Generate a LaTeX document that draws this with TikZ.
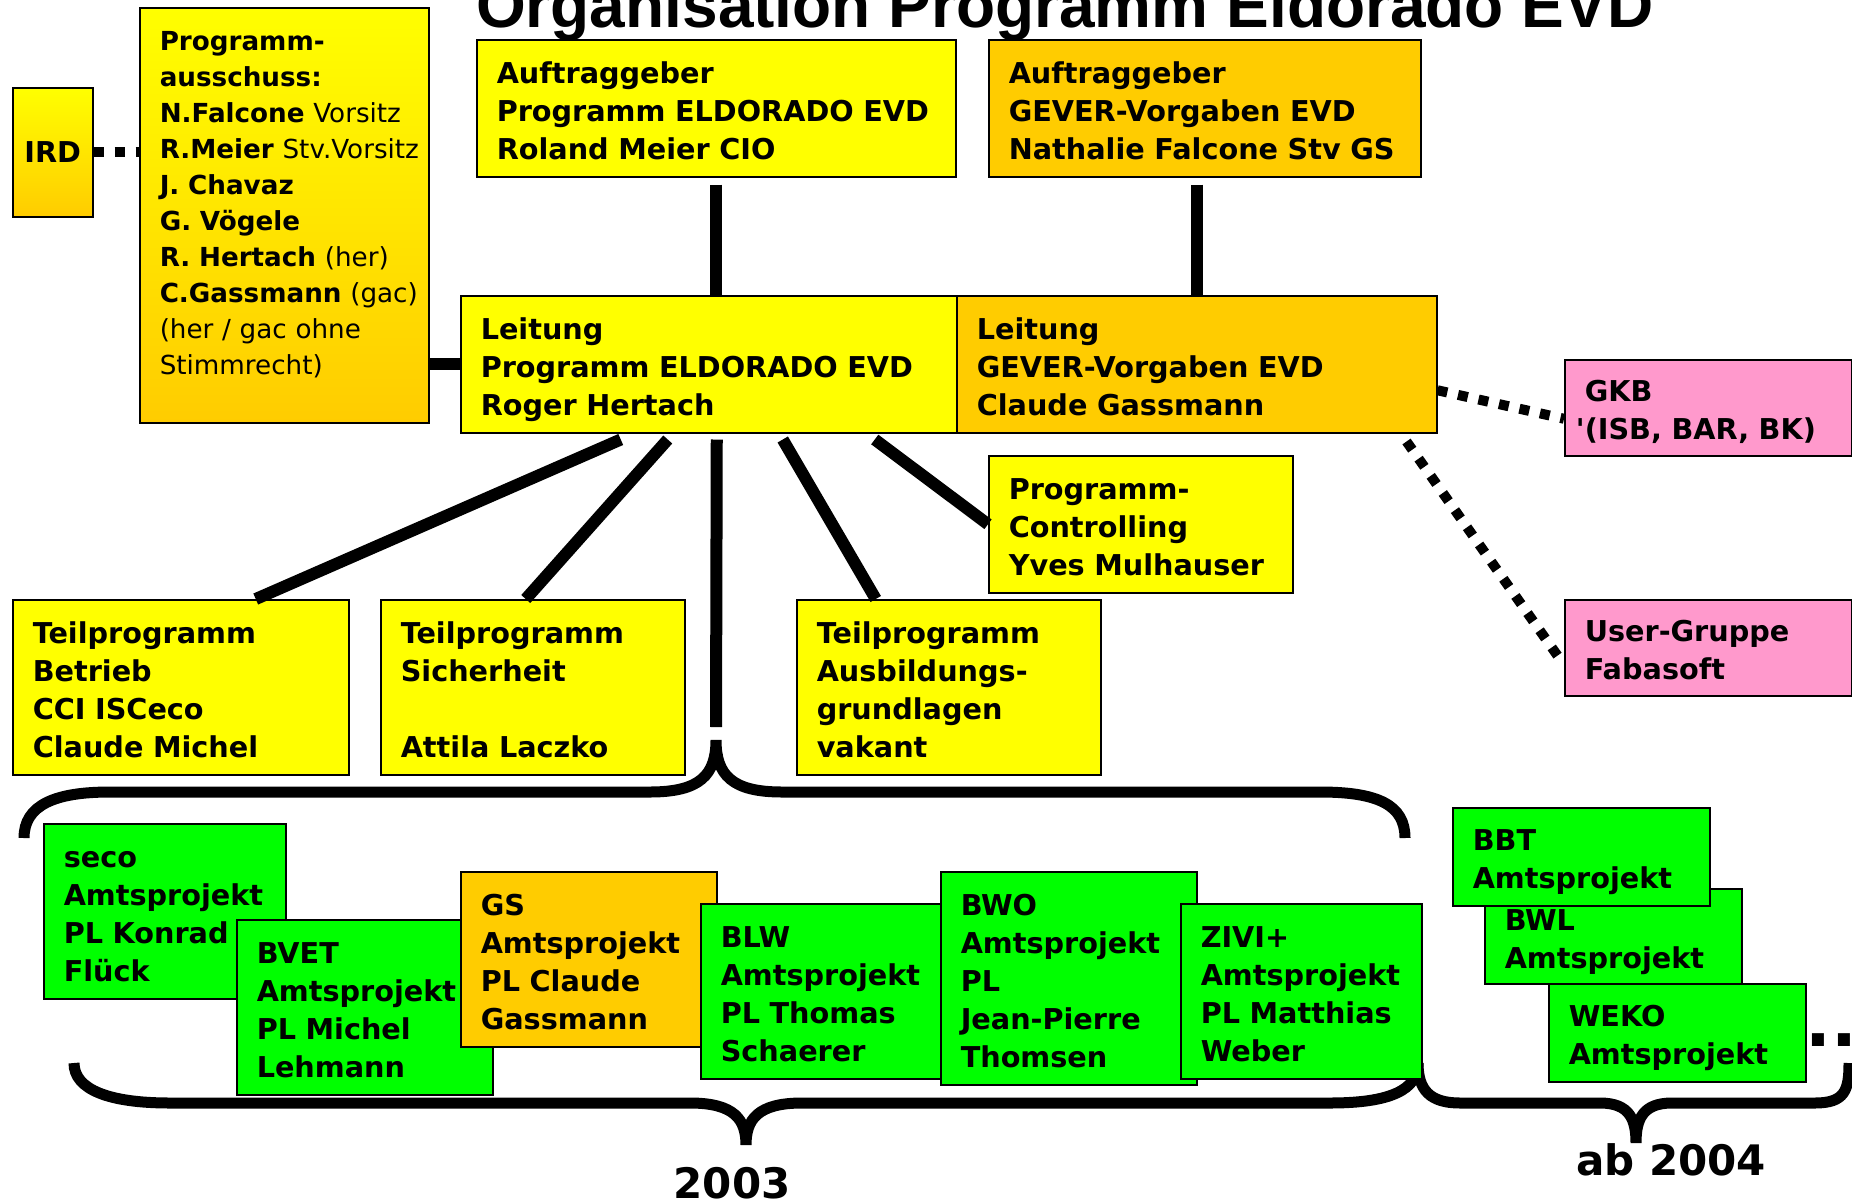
\documentclass[tikz,border=0pt]{standalone}
\usepackage{fontspec}
\setmainfont{DejaVu Sans}
\newfontfamily\headfont{Liberation Sans}
\usetikzlibrary{positioning}

\definecolor{evdyellow}{HTML}{FFFF00}
\definecolor{evdorange}{HTML}{FFCC00}
\definecolor{evdgreen}{HTML}{00FF00}
\definecolor{evdpink}{HTML}{FF99CC}

\tikzset{
  box/.style={draw=black, line width=1.5pt, anchor=north west, align=left,
    inner xsep=20pt, inner ysep=0pt, text height=44pt,
    font=\fontsize{28.7}{38}\selectfont\bfseries},
  boxsize/.code 2 args={\pgfmathsetmacro\boxw{#1-40}\pgfmathsetmacro\boxd{#2-44}%
    \pgfkeysalso{text width=\boxw pt, text depth=\boxd pt}},
  conn/.style={line width=12pt},
  dotline/.style={line width=10pt, dash pattern=on 10pt off 11pt},
  brace/.style={line width=11pt},
  yearlabel/.style={font=\bfseries\fontsize{42}{48}\selectfont},
}

\begin{document}
\begin{tikzpicture}[x=1pt, y=-1pt]
\useasboundingbox (0,0) rectangle (1852,1203);

% title
\node[anchor=base west, inner sep=0pt, font=\headfont\bfseries\fontsize{64}{70}\selectfont] (title) at (476,27) {Organisation Programm Eldorado EVD};

% top level
\node[draw=black, line width=1.5pt, anchor=north west, minimum width=80pt, minimum height=129pt, top color=evdyellow, bottom color=evdorange, font=\fontsize{28.7}{38}\selectfont\bfseries] (ird) at (12,87) {IRD};
\node[box, boxsize={289}{416}, top color=evdyellow, bottom color=evdorange, text height=43pt, font=\fontsize{26.2}{36}\selectfont\bfseries] (ausschuss) at (139,7)
  {Programm-\\ausschuss:\\N.Falcone~{\mdseries Vorsitz}\\R.Meier~{\mdseries Stv.Vorsitz}\\J. Chavaz\\G. Vögele\\R.~Hertach~{\mdseries (her)}\\C.Gassmann~{\mdseries (gac)}\\{\mdseries (her~/~gac~ohne}\\{\mdseries Stimmrecht)}};
\node[box, boxsize={479}{137}, fill=evdyellow] (auftrag) at (476,39) {Auftraggeber\\Programm ELDORADO EVD\\Roland Meier CIO};
\node[box, boxsize={432}{137}, fill=evdorange] (auftraggever) at (988,39) {Auftraggeber\\GEVER-Vorgaben EVD\\Nathalie Falcone Stv GS};
\node[box, boxsize={496}{137}, fill=evdyellow] (leitung) at (460,295) {Leitung\\Programm ELDORADO EVD\\Roger Hertach};
\node[box, boxsize={480}{137}, fill=evdorange] (leitunggever) at (956,295) {Leitung\\GEVER-Vorgaben EVD\\Claude Gassmann};
\node[box, boxsize={287}{98}, fill=evdpink, text height=42pt] (gkb) at (1564,359) {GKB\\\leavevmode\llap{\textquotesingle}(ISB, BAR, BK)};
\node[box, boxsize={287}{98}, fill=evdpink, text height=42pt] (user) at (1564,599) {User-Gruppe\\Fabasoft};
\node[box, boxsize={304}{137}, fill=evdyellow] (controlling) at (988,455) {Programm-\\Controlling\\Yves Mulhauser};

% Teilprogramme
\node[box, boxsize={336}{175}, fill=evdyellow] (betrieb) at (12,599) {Teilprogramm\\Betrieb\\CCI ISCeco\\Claude Michel};
\node[box, boxsize={304}{175}, fill=evdyellow] (sicherheit) at (380,599) {Teilprogramm\\Sicherheit\\~\\Attila Laczko};
\node[box, boxsize={304}{175}, fill=evdyellow] (ausbildung) at (796,599) {Teilprogramm\\Ausbildungs-\\grundlagen\\vakant};

% connectors
\draw[dotline] (ird.east) -- (ird.east -| ausschuss.west);
\draw[conn] (leitung.west) -- (leitung.west -| ausschuss.east);
\draw[conn] ([yshift=-7pt]auftrag.south) -- (auftrag.south |- leitung.north);
\draw[conn] ([xshift=-8pt,yshift=-7pt]auftraggever.south) -- ([xshift=-8pt]auftraggever.south |- leitunggever.north);
\draw[dotline] ([yshift=-26pt]leitunggever.east) -- ([yshift=-11pt]gkb.west);
\draw[dotline] ([xshift=-31pt,yshift=-8pt]leitunggever.south east) -- ([xshift=-5pt,yshift=-10pt]user.west);

\coordinate (top03) at (716,740);
\draw[conn] ([xshift=-88pt,yshift=-6pt]leitung.south) -- ([xshift=75pt]betrieb.north);
\draw[conn] ([xshift=-41pt,yshift=-6pt]leitung.south) -- ([xshift=-7pt]sicherheit.north);
\draw[conn] ([xshift=8pt,yshift=-6pt]leitung.south) -- ([yshift=13pt]top03);
\draw[conn] ([xshift=74pt,yshift=-6pt]leitung.south) -- ([xshift=-73pt]ausbildung.north);
\draw[conn] ([xshift=166pt,yshift=-6pt]leitung.south) -- (controlling.west);

% braces
\draw[brace] (24,838) .. controls (24,805) and (55,792) .. (110,792) -- (650,792)
  .. controls (700,792) and (716,775) .. (top03)
  .. controls (716,775) and (732,792) .. (782,792) -- (1320,792)
  .. controls (1378,792) and (1405,805) .. (1405,838);
\draw[brace] (74,1063) .. controls (74,1090) and (110,1103) .. (170,1103) -- (690,1103)
  .. controls (735,1103) and (746,1120) .. (746,1145)
  .. controls (746,1120) and (757,1103) .. (802,1103) -- (1330,1103)
  .. controls (1390,1103) and (1418,1090) .. (1418,1063);
\draw[brace] (1418,1063) .. controls (1418,1090) and (1430,1103) .. (1460,1103) -- (1600,1103)
  .. controls (1630,1103) and (1636,1120) .. (1636,1143)
  .. controls (1636,1120) and (1642,1103) .. (1672,1103) -- (1815,1103)
  .. controls (1845,1103) and (1849,1090) .. (1849,1063);

% Amtsprojekte 2003
\node[box, boxsize={242}{175}, fill=evdgreen] (seco) at (43,823) {seco\\Amtsprojekt\\PL Konrad\\Flück};
\node[box, boxsize={256}{175}, fill=evdgreen] (bvet) at (236,919) {BVET\\Amtsprojekt\\PL Michel\\Lehmann};
\node[box, boxsize={256}{175}, fill=evdorange] (gs) at (460,871) {GS\\Amtsprojekt\\PL Claude\\Gassmann};
\node[box, boxsize={240}{175}, fill=evdgreen] (blw) at (700,903) {BLW\\Amtsprojekt\\PL Thomas\\Schaerer};
\node[box, boxsize={256}{213}, fill=evdgreen] (bwo) at (940,871) {BWO\\Amtsprojekt\\PL\\Jean-Pierre\\Thomsen};
\node[box, boxsize={241}{175}, fill=evdgreen] (zivi) at (1180,903) {ZIVI+\\Amtsprojekt\\PL Matthias\\Weber};

% ab 2004
\node[box, boxsize={257}{97}, fill=evdgreen, text height=42pt] (bwl) at (1484,888) {BWL\\Amtsprojekt};
\node[box, boxsize={257}{99}, fill=evdgreen, text height=43pt] (bbt) at (1452,807) {BBT\\Amtsprojekt};
\node[box, boxsize={257}{99}, fill=evdgreen, text height=43pt] (weko) at (1548,983) {WEKO\\Amtsprojekt};
\node[anchor=base west, inner sep=0pt, font=\fontsize{68}{68}\selectfont\bfseries] (more) at (1805,1046) {...};

\node[yearlabel, anchor=base] (y2003) at (732,1198) {2003};
\node[yearlabel, anchor=base] (y2004) at (1671,1175) {ab 2004};
\end{tikzpicture}
\end{document}
